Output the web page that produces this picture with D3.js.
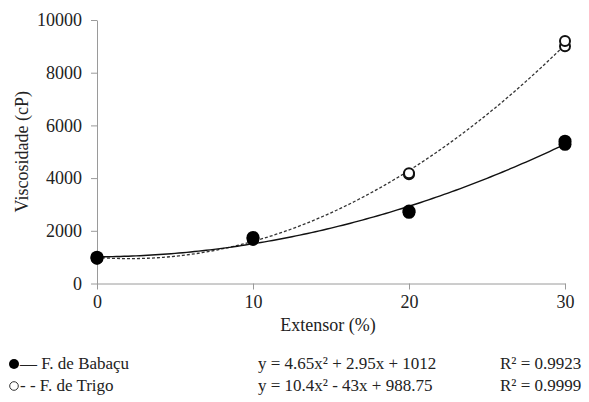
<!DOCTYPE html>
<html><head><meta charset="utf-8">
<script src="https://cdn.jsdelivr.net/npm/d3@7"></script>
</head><body style="margin:0;background:#fff"><svg id="c" width="589" height="402"></svg>
<script>
const xTicks = [0, 10, 20, 30];
const yTicks = [0, 2000, 4000, 6000, 8000, 10000];
const babacuX = [0, 0, 10, 10, 20, 20, 30, 30];
const babacuY = [1000, 960, 1700, 1750, 2700, 2750, 5280, 5400];
const trigoX = [0, 0, 10, 10, 20, 20, 30, 30];
const trigoY = [950, 980, 1650, 1700, 4150, 4180, 9000, 9200];
const babacuCoef = [4.65, 2.95, 1012];
const trigoCoef = [10.4, -43, 988.75];
const legendNames = ["— F. de Babaçu", "- - F. de Trigo"];
const legendEq = ["y = 4.65x² + 2.95x + 1012", "y = 10.4x² - 43x + 988.75"];
const legendR2 = ["R² = 0.9923", "R² = 0.9999"];

const FONT = "'Liberation Serif'";
const svg = d3.select("#c");
const x = d3.scaleLinear().domain([0, 30]).range([97, 565]);
const y = d3.scaleLinear().domain([0, 10000]).range([283.5, 20]);
const axisColor = "#9a9a9a";

const xa = svg.append("g").attr("transform", `translate(0,${y(0)})`)
  .call(d3.axisBottom(x).tickValues(xTicks).tickFormat(d3.format("d")).tickSize(6).tickPadding(6).tickSizeOuter(0));
const ya = svg.append("g").attr("transform", `translate(${x(0)},0)`)
  .call(d3.axisLeft(y).tickValues(yTicks).tickFormat(d3.format("d")).tickSize(6).tickPadding(9).tickSizeOuter(0));
[xa, ya].forEach(g => {
  g.attr("font-family", FONT).attr("font-size", 18);
  g.selectAll("path,line").attr("stroke", axisColor).attr("stroke-width", 1);
  g.selectAll("text").attr("fill", "#222").attr("font-family", FONT);
});

svg.append("text").attr("x", 328).attr("y", 331).attr("text-anchor", "middle").attr("fill", "#222").attr("font-family", FONT).attr("font-size", 18).text("Extensor (%)");
svg.append("text").attr("transform", `translate(28,${(y(0)+y(10000))/2}) rotate(-90)`).attr("text-anchor", "middle").attr("fill", "#222").attr("font-family", FONT).attr("font-size", 18).text("Viscosidade (cP)");

const curve = c => d3.range(0, 30.01, 0.25).map(t => [t, c[0]*t*t + c[1]*t + c[2]]);
const line = d3.line().x(d => x(d[0])).y(d => y(d[1]));
svg.append("path").attr("d", line(curve(trigoCoef))).attr("fill", "none").attr("stroke", "#333").attr("stroke-width", 1.3).attr("stroke-dasharray", "3,2");
svg.append("path").attr("d", line(curve(babacuCoef))).attr("fill", "none").attr("stroke", "#111").attr("stroke-width", 1.4);

svg.append("g").selectAll("circle").data(trigoX.map((v, i) => [v, trigoY[i]])).join("circle")
  .attr("cx", d => x(d[0])).attr("cy", d => y(d[1])).attr("r", 5).attr("fill", "#fff").attr("stroke", "#111").attr("stroke-width", 2);
svg.append("g").selectAll("circle").data(babacuX.map((v, i) => [v, babacuY[i]])).join("circle")
  .attr("cx", d => x(d[0])).attr("cy", d => y(d[1])).attr("r", 6.5).attr("fill", "#000");

const rowsY = [369, 391];
rowsY.forEach((ry, i) => {
  if (i === 0) svg.append("circle").attr("cx", 14).attr("cy", ry - 5).attr("r", 5).attr("fill", "#000");
  else svg.append("circle").attr("cx", 14).attr("cy", ry - 5).attr("r", 4.3).attr("fill", "#fff").attr("stroke", "#333").attr("stroke-width", 1);
  svg.append("text").attr("x", 20).attr("y", ry).attr("fill", "#222").attr("font-family", FONT).attr("font-size", 17).text(legendNames[i]);
  svg.append("text").attr("x", 258).attr("y", ry).attr("fill", "#222").attr("font-family", FONT).attr("font-size", 17).text(legendEq[i]);
  svg.append("text").attr("x", 500).attr("y", ry).attr("fill", "#222").attr("font-family", FONT).attr("font-size", 17).text(legendR2[i]);
});
</script></body></html>
